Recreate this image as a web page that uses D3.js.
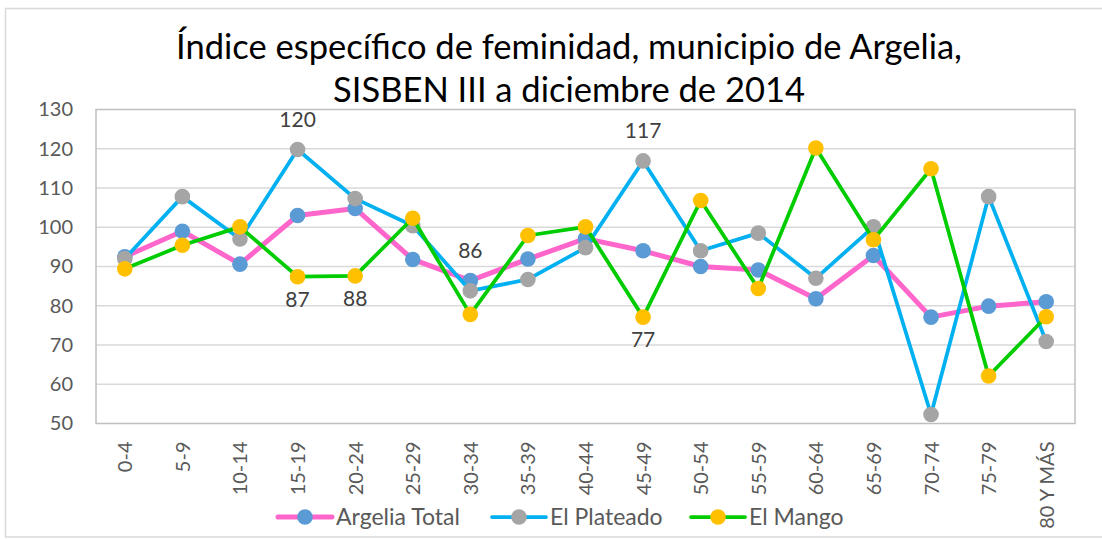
<!DOCTYPE html>
<html>
<head>
<meta charset="utf-8">
<script src="https://cdn.jsdelivr.net/npm/d3@7"></script>
<style>
  html, body { margin: 0; padding: 0; background: #fff; }
  svg { display: block; font-family: Lato, "Open Sans", sans-serif; }
</style>
</head>
<body>
<svg id="chart" width="1102" height="539"></svg>
<script>
const categories = ["0-4","5-9","10-14","15-19","20-24","25-29","30-34","35-39","40-44","45-49","50-54","55-59","60-64","65-69","70-74","75-79","80 Y MÁS"];
const argeliaTotal = [92.5, 99, 90.6, 103, 104.8, 91.8, 86.4, 91.9, 97.1, 94, 90, 89.1, 81.8, 92.8, 77.1, 79.9, 81];
const elPlateado  = [92, 107.8, 97, 119.8, 107.3, 100.4, 83.8, 86.7, 94.8, 116.9, 94, 98.5, 87, 100.1, 52.3, 107.8, 70.9];
const elMango     = [89.4, 95.4, 100.1, 87.4, 87.6, 102.3, 77.8, 97.9, 100.1, 77.1, 106.8, 84.4, 120.2, 96.8, 114.9, 62.1, 77.2];
const yTicks = [50, 60, 70, 80, 90, 100, 110, 120, 130];
const titleLines = ["Índice específico de feminidad, municipio de Argelia,", "SISBEN III a diciembre de 2014"];

const series = [
  { name: "Argelia Total", values: argeliaTotal, line: "#FF66CC", marker: "#5B9BD5", width: 5 },
  { name: "El Plateado",  values: elPlateado,  line: "#00B0F0", marker: "#A5A5A5", width: 3.75 },
  { name: "El Mango",     values: elMango,     line: "#00CC00", marker: "#FFC000", width: 3.75 }
];
// data labels: [series index, category index, position]
const dataLabels = [
  [1, 3, "above"], [1, 9, "above"], [0, 6, "above"],
  [2, 3, "below"], [2, 4, "below"], [2, 9, "below"]
];

const svg = d3.select("#chart");
const plot = { left: 96, right: 1075, top: 109.5, bottom: 423.5 };

// outer chart border
svg.append("rect").attr("x", 5.5).attr("y", 8.5).attr("width", 1110).attr("height", 528.5)
  .attr("fill", "#fff").attr("stroke", "#D9D9D9").attr("stroke-width", 1.5);

const x = d3.scalePoint().domain(categories).range([plot.left, plot.right]).padding(0.5);
const y = d3.scaleLinear().domain([50, 130]).range([plot.bottom, plot.top]);

// gridlines
svg.append("g").selectAll("line").data(yTicks.filter(t => t > 50 && t < 130)).join("line")
  .attr("x1", plot.left).attr("x2", plot.right)
  .attr("y1", d => y(d)).attr("y2", d => y(d))
  .attr("stroke", "#D9D9D9").attr("stroke-width", 1.5);

// plot area border
svg.append("rect").attr("x", plot.left).attr("y", plot.top)
  .attr("width", plot.right - plot.left).attr("height", plot.bottom - plot.top)
  .attr("fill", "none").attr("stroke", "#BFBFBF").attr("stroke-width", 1.5);

// y axis
const yAxis = svg.append("g").attr("transform", `translate(${plot.left},0)`)
  .call(d3.axisLeft(y).tickValues(yTicks).tickSize(0).tickPadding(23));
yAxis.select(".domain").remove();
yAxis.selectAll("text").attr("font-size", 20).attr("fill", "#595959").attr("font-family", "Lato");

// x axis
const xAxis = svg.append("g").attr("transform", `translate(0,${plot.bottom})`)
  .call(d3.axisBottom(x).tickSize(0));
xAxis.select(".domain").remove();
xAxis.selectAll("text")
  .attr("font-size", 20).attr("fill", "#595959").attr("font-family", "Lato")
  .attr("transform", "rotate(-90)")
  .attr("text-anchor", "end")
  .attr("x", -18).attr("y", 0).attr("dy", "0.35em");

// series
const lineGen = d3.line().x((d, i) => x(categories[i])).y(d => y(d));
series.forEach(s => {
  const g = svg.append("g");
  g.append("path").datum(s.values).attr("d", lineGen)
    .attr("fill", "none").attr("stroke", s.line).attr("stroke-width", s.width)
    .attr("stroke-linejoin", "round");
  g.selectAll("circle").data(s.values).join("circle")
    .attr("cx", (d, i) => x(categories[i])).attr("cy", d => y(d))
    .attr("r", 7.8).attr("fill", s.marker);
});

// data labels
svg.append("g").selectAll("text").data(dataLabels).join("text")
  .attr("x", d => x(categories[d[1]]))
  .attr("y", d => {
    const v = series[d[0]].values[d[1]];
    return d[2] === "above" ? y(v) - 23 : y(v) + 30;
  })
  .attr("text-anchor", "middle").attr("font-size", 21).attr("fill", "#404040")
  .text(d => Math.round(series[d[0]].values[d[1]]));

// title
svg.append("g").selectAll("text").data(titleLines).join("text")
  .attr("x", 569).attr("y", (d, i) => 59 + i * 43)
  .attr("text-anchor", "middle").attr("font-size", 34.5).attr("fill", "#000")
  .text(d => d);

// legend
const legendItems = [
  { s: series[0], x0: 278 },
  { s: series[1], x0: 492 },
  { s: series[2], x0: 691 }
];
const lg = svg.append("g");
legendItems.forEach(it => {
  const ly = 517;
  lg.append("line").attr("x1", it.x0).attr("x2", it.x0 + 54).attr("y1", ly).attr("y2", ly)
    .attr("stroke", it.s.line).attr("stroke-width", it.s.width).attr("stroke-linecap", "round");
  lg.append("circle").attr("cx", it.x0 + 27).attr("cy", ly).attr("r", 7.8).attr("fill", it.s.marker);
  lg.append("text").attr("x", it.x0 + 58).attr("y", ly).attr("dy", "0.35em")
    .attr("font-size", 23).attr("fill", "#595959").text(it.s.name);
});
</script>
</body>
</html>
